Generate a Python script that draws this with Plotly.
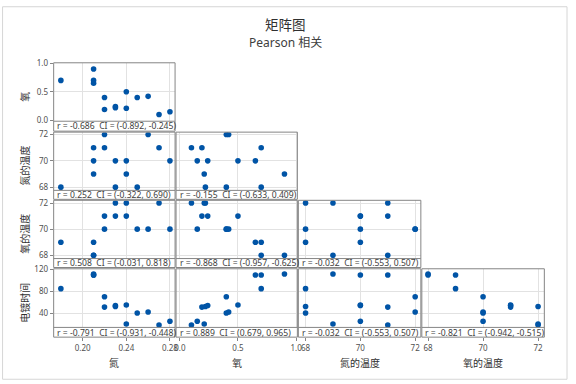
import plotly.graph_objects as go

# ---- data (14 observations) ----
n2 = [0.18, 0.21, 0.21, 0.21, 0.22, 0.22, 0.23, 0.23, 0.24, 0.24, 0.25, 0.26, 0.27, 0.28]
o2 = [0.70, 0.90, 0.70, 0.65, 0.40, 0.19, 0.22, 0.24, 0.50, 0.21, 0.40, 0.42, 0.10, 0.15]
n2_temp = [68, 69, 71, 70, 72, 71, 68, 70, 70, 69, 68, 72, 71, 70]
o2_temp = [69, 68, 68, 69, 70, 71, 72, 71, 71, 72, 70, 70, 72, 70]
plating_time = [85, 112, 110, 110, 70, 51, 52, 54, 55, 20, 40, 42, 18, 25]

col_vars = [n2, o2, n2_temp, o2_temp]
row_vars = [o2, n2_temp, o2_temp, plating_time]
col_labels = ["氮", "氧", "氮的温度", "氧的温度"]
row_labels = ["氧", "氮的温度", "氧的温度", "电镀时间"]

col_ticks = [[0.20, 0.24, 0.28], [0.0, 0.5, 1.0], [68, 70, 72], [68, 70, 72]]
col_ticktext = [["0.20", "0.24", "0.28"], ["0.0", "0.5", "1.0"], ["68", "70", "72"], ["68", "70", "72"]]
row_ticks = [[0.0, 0.5, 1.0], [68, 70, 72], [68, 70, 72], [40, 80, 120]]
row_ticktext = [["0.0", "0.5", "1.0"], ["68", "70", "72"], ["68", "70", "72"], ["40", "80", "120"]]

corr_text = {
    (0, 0): "r = -0.686  CI = (-0.892, -0.245)",
    (1, 0): "r = 0.252  CI = (-0.322, 0.690)",
    (1, 1): "r = -0.155  CI = (-0.633, 0.409)",
    (2, 0): "r = 0.508  CI = (-0.031, 0.818)",
    (2, 1): "r = -0.868  CI = (-0.957, -0.625)",
    (2, 2): "r = -0.032  CI = (-0.553, 0.507)",
    (3, 0): "r = -0.791  CI = (-0.931, -0.448)",
    (3, 1): "r = 0.889  CI = (0.679, 0.965)",
    (3, 2): "r = -0.032  CI = (-0.553, 0.507)",
    (3, 3): "r = -0.821  CI = (-0.942, -0.515)",
}

# ---- layout geometry (pixels) ----
W, H = 576, 384
cols_px = [(52.3, 175.2), (176.2, 299.0), (300.0, 424.0), (425.0, 549.0)]
rows_px = [(58.3, 118.3, 128.5), (129.5, 189.3, 198.5), (199.5, 259.3, 268.5), (269.8, 330.0, 340.0)]
x_ranges = [[0.1734, 0.2847], [-0.0323, 1.011], [67.737, 72.207], [67.774, 72.227]]
y_ranges = [[-0.017, 1.01], [67.755, 72.185], [67.75, 72.21], [13.6, 121.6]]

def px(x):
    return x / W

def py(y):
    return 1 - y / H

FONT = "Noto Sans, Noto Sans CJK SC, sans-serif"
BORDER = "#858585"
GRID = "#e2e2e2"
BLUE = "#0054a6"

fig = go.Figure()
layout = {}
shapes = []
annotations = []

k = 0
for i in range(4):
    top, dbot, sbot = rows_px[i]
    for j in range(i + 1):
        k += 1
        xn = "x" if k == 1 else f"x{k}"
        yn = "y" if k == 1 else f"y{k}"
        xk = "xaxis" if k == 1 else f"xaxis{k}"
        yk = "yaxis" if k == 1 else f"yaxis{k}"
        cx0, cx1 = cols_px[j]
        fig.add_trace(go.Scatter(
            x=col_vars[j], y=row_vars[i], mode="markers",
            marker=dict(color=BLUE, size=5.6, line=dict(width=0)),
            xaxis=xn, yaxis=yn, showlegend=False, hoverinfo="skip"))
        xa = dict(domain=[px(cx0), px(cx1)], range=x_ranges[j],
                  tickvals=col_ticks[j], ticktext=col_ticktext[j],
                  showgrid=True, gridcolor=GRID, gridwidth=1, zeroline=False,
                  showline=False, fixedrange=True,
                  tickfont=dict(size=8, color="#505050", family=FONT))
        if i == 3:
            xa.update(anchor="free", position=py(sbot), showticklabels=True,
                      ticks="outside", ticklen=3, tickcolor=BORDER)
        else:
            xa.update(anchor=yn, showticklabels=False, ticks="")
        ya = dict(domain=[py(dbot), py(top)], range=y_ranges[i],
                  tickvals=row_ticks[i], ticktext=row_ticktext[i],
                  showgrid=True, gridcolor=GRID, gridwidth=1, zeroline=False,
                  showline=False, fixedrange=True, anchor=xn,
                  tickfont=dict(size=8, color="#505050", family=FONT))
        if j == 0:
            ya.update(showticklabels=True, ticks="outside", ticklen=3, tickcolor=BORDER)
        else:
            ya.update(showticklabels=False, ticks="")
        layout[xk] = xa
        layout[yk] = ya

        # panel border and strip separator
        shapes.append(dict(type="rect", xref="paper", yref="paper",
                           x0=px(cx0), x1=px(cx1), y0=py(sbot), y1=py(top),
                           line=dict(color=BORDER, width=1), fillcolor="rgba(0,0,0,0)"))
        shapes.append(dict(type="line", xref="paper", yref="paper",
                           x0=px(cx0), x1=px(cx1), y0=py(dbot), y1=py(dbot),
                           line=dict(color=BORDER, width=1)))
        annotations.append(dict(text=corr_text[(i, j)], xref="paper", yref="paper",
                                x=px(cx0 + 1.5), y=py((dbot + sbot) / 2 + 0.3),
                                xanchor="left", yanchor="middle", showarrow=False,
                                font=dict(size=8.6, color="#404040", family=FONT)))

# axis titles
for i in range(4):
    top, dbot, sbot = rows_px[i]
    annotations.append(dict(text=row_labels[i], xref="paper", yref="paper",
                            x=px(23), y=py((top + sbot) / 2), textangle=-90,
                            xanchor="center", yanchor="middle", showarrow=False,
                            font=dict(size=10, color="#303030", family=FONT)))
for j in range(4):
    cx0, cx1 = cols_px[j]
    annotations.append(dict(text=col_labels[j], xref="paper", yref="paper",
                            x=px((cx0 + cx1) / 2), y=py(367),
                            xanchor="center", yanchor="middle", showarrow=False,
                            font=dict(size=10, color="#303030", family=FONT)))

# titles
annotations.append(dict(text="矩阵图", xref="paper", yref="paper",
                        x=px(287), y=py(19), xanchor="center", yanchor="middle",
                        showarrow=False, font=dict(size=13.5, color="#303030", family=FONT)))
annotations.append(dict(text="Pearson 相关", xref="paper", yref="paper",
                        x=px(287), y=py(37), xanchor="center", yanchor="middle",
                        showarrow=False, font=dict(size=12, color="#404040", family=FONT)))

# outer frame
shapes.append(dict(type="rect", xref="paper", yref="paper", x0=0.001, x1=0.993, y0=0.002, y1=0.998,
                   line=dict(color="#d6d6d6", width=1)))

fig.update_layout(**layout)
fig.update_layout(width=W, height=H, margin=dict(l=0, r=0, t=0, b=0),
                  paper_bgcolor="white", plot_bgcolor="white",
                  shapes=shapes, annotations=annotations,
                  font=dict(family=FONT))
fig.write_html("out.html", config={"displayModeBar": False},
               post_script="document.body.style.margin='0';document.body.style.overflow='hidden';")
